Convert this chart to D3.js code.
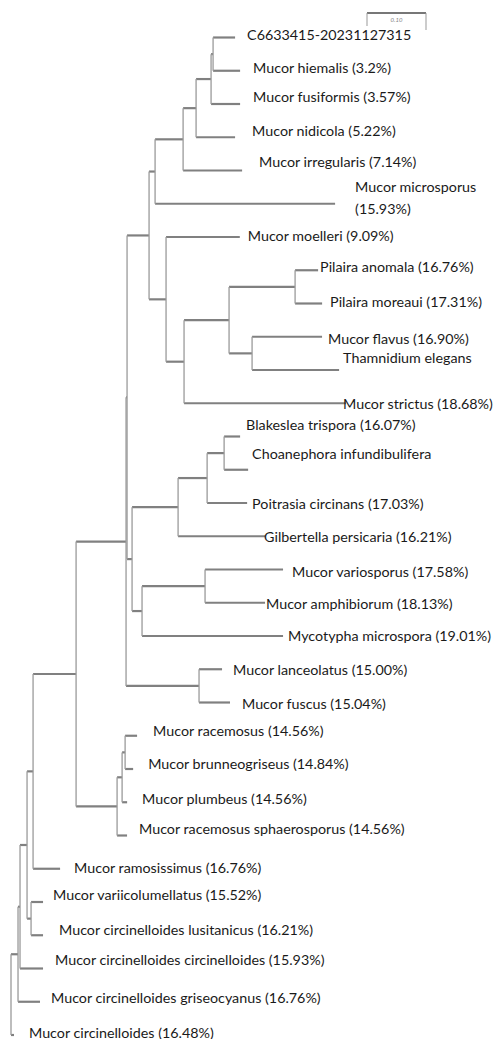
<!DOCTYPE html>
<html><head><meta charset="utf-8">
<script src="https://cdn.jsdelivr.net/npm/d3@7"></script>
<style>body{margin:0;background:#fff}svg{display:block}
text.lab{font-variant-numeric:tabular-nums;font-feature-settings:"tnum" 1;}</style>
</head><body><svg id="c" width="495" height="1039"></svg>
<script>
// ---------- DATA ----------
const leafLabels = [
  "C6633415-20231127315",
  "Mucor hiemalis (3.2%)",
  "Mucor fusiformis (3.57%)",
  "Mucor nidicola (5.22%)",
  "Mucor irregularis (7.14%)",
  "Mucor microsporus\n(15.93%)",
  "Mucor moelleri (9.09%)",
  "Pilaira anomala (16.76%)",
  "Pilaira moreaui (17.31%)",
  "Mucor flavus (16.90%)",
  "Thamnidium elegans",
  "Mucor strictus (18.68%)",
  "Blakeslea trispora (16.07%)",
  "Choanephora infundibulifera",
  "Poitrasia circinans (17.03%)",
  "Gilbertella persicaria (16.21%)",
  "Mucor variosporus (17.58%)",
  "Mucor amphibiorum (18.13%)",
  "Mycotypha microspora (19.01%)",
  "Mucor lanceolatus (15.00%)",
  "Mucor fuscus (15.04%)",
  "Mucor racemosus (14.56%)",
  "Mucor brunneogriseus (14.84%)",
  "Mucor plumbeus (14.56%)",
  "Mucor racemosus sphaerosporus (14.56%)",
  "Mucor ramosissimus (16.76%)",
  "Mucor variicolumellatus (15.52%)",
  "Mucor circinelloides lusitanicus (16.21%)",
  "Mucor circinelloides circinelloides (15.93%)",
  "Mucor circinelloides griseocyanus (16.76%)",
  "Mucor circinelloides (16.48%)"
];
const leafParent = [
  "n213","n213","n211","n196","n183","n155","m166","p295","p295","f252","f252","i184",
  "k224","k224","h207","g178","u205","u205","q142","l199","l199",
  "r125","r125","r122","r117","n33","vc31","vc31","w","v","root"
];
const leafLength = [
  0.0373,0.0458,0.0492,0.0661,0.1000,0.3051,0.1250,0.0390,0.0458,0.1186,0.1475,0.2746,
  0.0271,0.0407,0.0678,0.1475,0.1322,0.1017,0.2390,0.0390,0.0525,
  0.0203,0.0136,0.0085,0.0169,0.0458,0.0203,0.0203,0.0390,0.0373,0.0051
];
const nodeIds    = ["root","v","w","z","n33","n76","y","x","t149","n155","n183","n196","n211","n213",
                    "m166","i184","j229","p295","f252","b132","g178","h207","k224","q142","u205",
                    "l199","r117","r122","r125","vc31"];
const nodeParent = ["","root","v","w","z","n33","n76","y","x","t149","n155","n183","n196","n211",
                    "t149","m166","i184","j229","j229","x","b132","g178","h207","b132","q142",
                    "y","n76","r117","r122","z"];
const nodeLength = [0,0.0119,0.0034,0.0119,0.0102,0.0729,0.0847,0.0017,0.0373,0.0102,0.0475,0.0220,0.0254,0.0034,
                    0.0288,0.0305,0.0763,0.1119,0.0390,0.0085,0.0780,0.0492,0.0288,0.0169,0.1068,
                    0.1237,0.0695,0.0085,0.0051,0.0068];
const scaleBarValue = 0.1;
const scaleBarLabel = "0.10";

// ---------- LAYOUT (label nudges, px) ----------
const labelDx = [12,13,13,17,17,20,8,2,8,6,4,-3,6,4,5,-1,9,1,5,11,12,16,15,15,12,14,10,16,12,11,15];
const labelDy = [-4,-4,-8,-7,-10,-18,-2,-4,-3,1,-13,0,-13,-17,0,0,1,0,-1,0,0,-6,-6,-4,-8,-2,-8,-6,-10,-5,-3];

// ---------- BUILD ----------
const rows = nodeIds.map((id,i)=>({id, parent: nodeParent[i] || null, len: nodeLength[i]}))
  .concat(leafLabels.map((id,i)=>({id, parent: leafParent[i], len: leafLength[i], leaf:i})));
const root = d3.stratify().id(d=>d.id).parentId(d=>d.parent)(rows);
root.eachAfter(n=>{ n.minLeaf = n.children ? d3.min(n.children, c=>c.minLeaf) : n.data.leaf; });
root.sort((a,b)=>a.minLeaf-b.minLeaf);
root.eachBefore(n=>{ n.dist = n.parent ? n.parent.dist + n.data.len : 0; });

const x = d3.scaleLinear().domain([0, 0.1]).range([11, 70]);
const y = d3.scalePoint().domain(leafLabels).range([37.5, 1035]);
root.eachAfter(n=>{
  n.py = n.children ? (n.children[0].py + n.children[n.children.length-1].py)/2 : y(n.id);
});

const svg = d3.select("#c");
const g = svg.append("g");

// horizontal branches
g.selectAll("line.h").data(root.descendants().filter(n=>n.parent)).join("line")
  .attr("class","h")
  .attr("x1", n=>x(n.parent.dist)).attr("x2", n=>x(n.dist))
  .attr("y1", n=>n.py).attr("y2", n=>n.py)
  .attr("stroke","#808080").attr("stroke-width",2.2);
// vertical connectors
g.selectAll("line.v").data(root.descendants().filter(n=>n.children)).join("line")
  .attr("class","v")
  .attr("x1", n=>x(n.dist)).attr("x2", n=>x(n.dist))
  .attr("y1", n=>n.children[0].py).attr("y2", n=>n.children[n.children.length-1].py)
  .attr("stroke","#9a9a9a").attr("stroke-width",1.3);

// labels
const leaves = root.leaves();
const lab = g.selectAll("text.lab").data(leaves).join("text")
  .attr("class","lab")
  .attr("x", n=>x(n.dist) + labelDx[n.data.leaf])
  .attr("y", n=>n.py + labelDy[n.data.leaf])
  .attr("dominant-baseline","central")
  .attr("font-family","Lato, 'Open Sans', sans-serif")
  .attr("font-size",14.3)
  .attr("fill","#1a1a1a");
lab.each(function(n){
  const parts = n.id.split("\n");
  const t = d3.select(this);
  parts.forEach((p,k)=>{
    t.append("tspan").attr("x", x(n.dist) + labelDx[n.data.leaf]).attr("dy", k===0?0:22).text(p);
  });
});

// scale bar
const sbX = 367, sbY = 13, sbW = x(scaleBarValue) - x(0);
const sb = svg.append("g");
sb.append("line").attr("x1",sbX).attr("x2",sbX+sbW).attr("y1",sbY).attr("y2",sbY)
  .attr("stroke","#777").attr("stroke-width",2);
sb.append("line").attr("x1",sbX).attr("x2",sbX).attr("y1",sbY).attr("y2",sbY+13)
  .attr("stroke","#999").attr("stroke-width",1);
sb.append("line").attr("x1",sbX+sbW).attr("x2",sbX+sbW).attr("y1",sbY).attr("y2",sbY+17)
  .attr("stroke","#999").attr("stroke-width",1);
sb.append("text").attr("x",sbX+sbW/2).attr("y",sbY+9).attr("text-anchor","middle")
  .attr("font-family","Lato, sans-serif").attr("font-size",6).attr("font-style","italic")
  .attr("fill","#888").text(scaleBarLabel);
</script></body></html>
